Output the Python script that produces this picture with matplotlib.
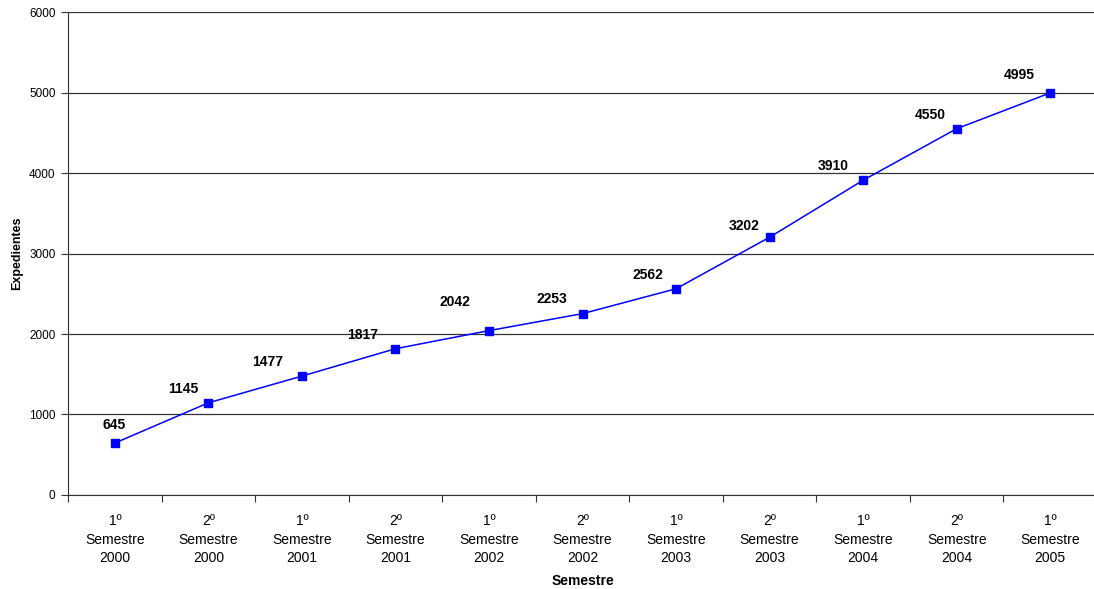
import matplotlib.pyplot as plt

plt.rcParams['font.family'] = ['Liberation Sans', 'DejaVu Sans']

# Expedientes por semestre
semestres = ['1º\nSemestre\n2000', '2º\nSemestre\n2000', '1º\nSemestre\n2001',
             '2º\nSemestre\n2001', '1º\nSemestre\n2002', '2º\nSemestre\n2002',
             '1º\nSemestre\n2003', '2º\nSemestre\n2003', '1º\nSemestre\n2004',
             '2º\nSemestre\n2004', '1º\nSemestre\n2005']
expedientes = [645, 1145, 1477, 1817, 2042, 2253, 2562, 3202, 3910, 4550, 4995]

# desplazamiento (pixeles) de cada etiqueta respecto a su punto
lbl_dx = [-1, -25, -34, -33, -34, -31, -28, -25, -30, -26, -31]
lbl_dy = [14, 10, 10, 10, 25, 11, 10, 7, 10, 10, 14]

fig = plt.figure(figsize=(10.94, 5.89), dpi=100)
ax = fig.add_axes([0.0622, 0.1596, 0.9405, 0.82])

x = list(range(len(expedientes)))
ax.plot(x, expedientes, color='#0000FF', linewidth=1.1, marker='s',
        markersize=6, markeredgecolor='#0000FF', zorder=3)

for i, v in enumerate(expedientes):
    ax.annotate(str(v), (i, v), xytext=(lbl_dx[i], lbl_dy[i]),
                textcoords='offset pixels', ha='center', va='baseline',
                fontsize=10, fontweight='bold')

ax.set_xlim(-0.5, len(expedientes) - 0.5)
ax.set_ylim(0, 6000)
ax.set_yticks(range(0, 6001, 1000))
ax.yaxis.grid(True, color='#333333', linewidth=0.9)
ax.set_axisbelow(True)

# marcas del eje x en los limites de cada categoria
ax.set_xticks([i - 0.5 for i in range(len(expedientes) + 1)])
ax.set_xticklabels([])
ax.set_xticks(x, minor=True)
ax.set_xticklabels(semestres, minor=True, fontsize=10, linespacing=1.4)
ax.tick_params(axis='x', which='minor', length=0, pad=14)
ax.tick_params(axis='x', which='major', length=5, color='#333333')
ax.tick_params(axis='y', length=5, labelsize=8.5, color='#333333', pad=4)

for s in ['top', 'right']:
    ax.spines[s].set_visible(False)
ax.spines['left'].set_color('#333333')
ax.spines['bottom'].set_color('#333333')

ax.set_xlabel('Semestre', fontsize=10, fontweight='bold', labelpad=6)
ax.set_ylabel('Expedientes', fontsize=9, fontweight='bold', labelpad=4)

fig.savefig('out.png', dpi=100)
